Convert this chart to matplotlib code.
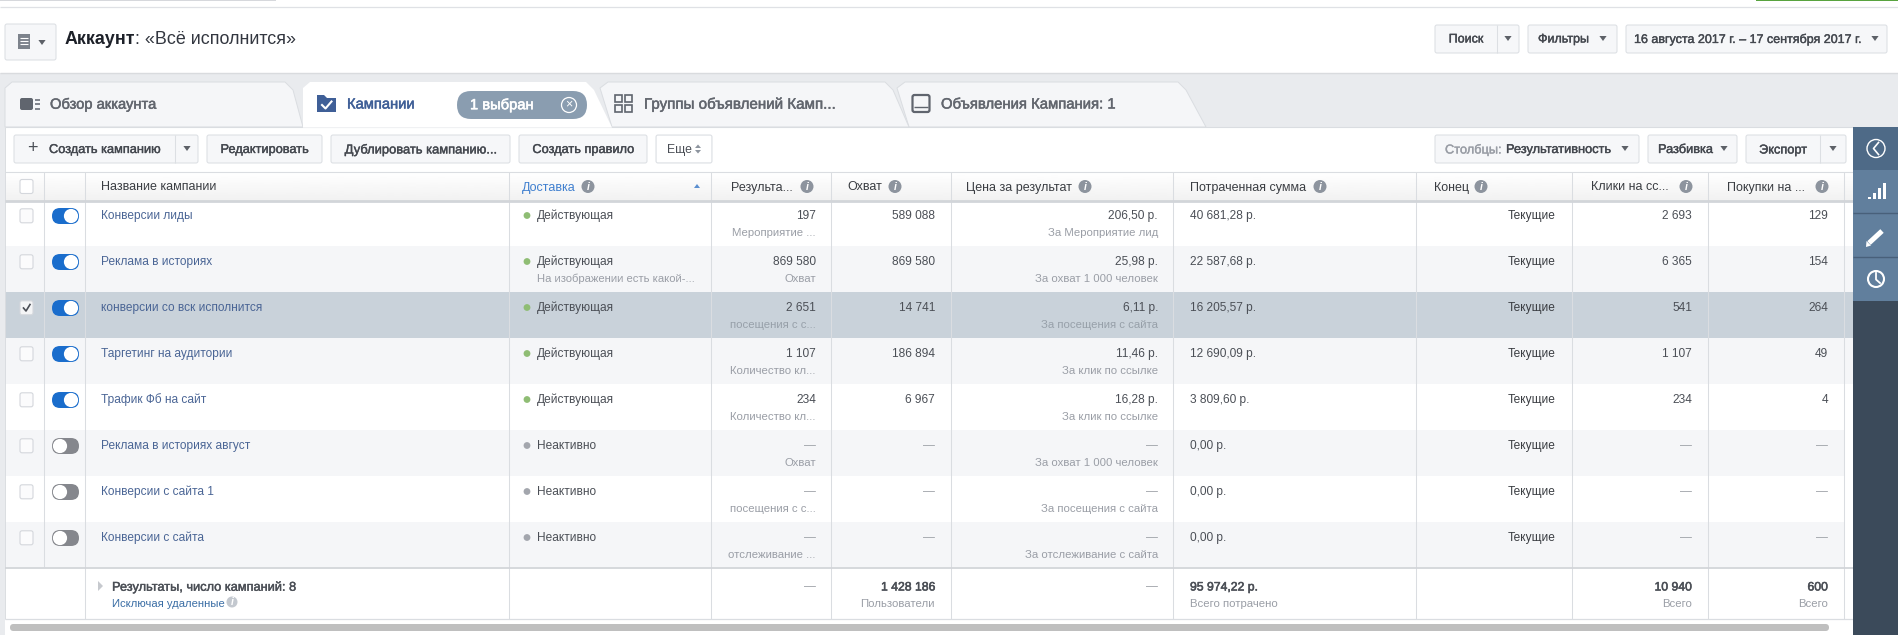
import numpy as np
import matplotlib
matplotlib.use("Agg")
import matplotlib.pyplot as plt
import matplotlib.patheffects as pe
from matplotlib.patches import Rectangle, FancyBboxPatch, Circle, Polygon

plt.rcParams['font.family'] = ['Liberation Sans', 'DejaVu Sans']

# ---- table content ----
campaigns = ["Конверсии лиды", "Реклама в историях", "конверсии со вск исполнится",
             "Таргетинг на аудитории", "Трафик Фб на сайт", "Реклама в историях август",
             "Конверсии с сайта 1", "Конверсии с сайта"]
active = [True, True, True, True, True, False, False, False]
checked = [False, False, True, False, False, False, False, False]
delivery = ["Действующая"] * 5 + ["Неактивно"] * 3
delivery_sub = ["", "На изображении есть какой-...", "", "", "", "", "", ""]
results = ["197", "869 580", "2 651", "1 107", "234", "—", "—", "—"]
result_types = ["Мероприятие ...", "Охват", "посещения с с...", "Количество кл...",
                "Количество кл...", "Охват", "посещения с с...", "отслеживание ..."]
reach = ["589 088", "869 580", "14 741", "186 894", "6 967", "—", "—", "—"]
cost = ["206,50 р.", "25,98 р.", "6,11 р.", "11,46 р.", "16,28 р.", "—", "—", "—"]
cost_types = ["За Мероприятие лид", "За охват 1 000 человек", "За посещения с сайта",
              "За клик по ссылке", "За клик по ссылке", "За охват 1 000 человек",
              "За посещения с сайта", "За отслеживание с сайта"]
spent = ["40 681,28 р.", "22 587,68 р.", "16 205,57 р.", "12 690,09 р.", "3 809,60 р.",
         "0,00 р.", "0,00 р.", "0,00 р."]
ends = ["Текущие"] * 8
clicks = ["2 693", "6 365", "541", "1 107", "234", "—", "—", "—"]
purchases = ["129", "154", "264", "49", "4", "—", "—", "—"]

headers = ["Название кампании", "Доставка", "Результа...", "Охват", "Цена за результат",
           "Потраченная сумма", "Конец", "Клики на сс...", "Покупки на ..."]
header_x = [101, 522, 731, 847, 966, 1190, 1434, 1591, 1727]
header_icon_x = [None, 588, 807, 895, 1085, 1320, 1481, 1686, 1822]
column_edges = [44, 85, 509, 711, 831, 951, 1173, 1416, 1572, 1708, 1844]
row_edges = [202, 246, 292, 338, 384, 430, 476, 522, 567]
row_text_y = [216, 262, 308, 354, 400, 446, 492, 538]

# ---- palette ----
C_TEXT = "#4b4f56"
C_DARK = "#3a3d42"
C_SUB = "#9a9ea6"
C_DASH = "#9ea2a8"
C_LINK = "#4a6595"
C_LINE = "#dadde1"
C_BTN = "#f6f7f9"
C_BG = "#e9ebee"
C_SHADE = "#f5f6f8"
C_SEL = "#c9d2da"
C_ICON = "#8d949e"

fig = plt.figure(figsize=(18.98, 6.35), dpi=100, facecolor="white")
ax = fig.add_axes([0, 0, 1, 1])
ax.set_xlim(0, 1898)
ax.set_ylim(635, 0)
ax.axis("off")


def T(x, y, s, size=8.6, color=C_TEXT, ha="left", weight="normal", **kw):
    if s == "—":
        color = C_DASH
    return ax.text(x, y, s, fontsize=size, color=color, ha=ha, va="center", weight=weight, **kw)


def M(x, y, s, size=9.2, color="#44484f", ha="left", stroke=0.28, **kw):
    """Medium-weight label: regular face with a hairline outline."""
    t = ax.text(x, y, s, fontsize=size, color=color, ha=ha, va="center", zorder=5, **kw)
    t.set_path_effects([pe.withStroke(linewidth=stroke, foreground=color)])
    return t


def R(x0, y0, x1, y1, fc, ec="none", lw=0, z=1):
    ax.add_patch(Rectangle((x0, y0), x1 - x0, y1 - y0, fc=fc, ec=ec, lw=lw, zorder=z))


def L(xs, ys, color=C_LINE, lw=0.75, z=3, **kw):
    ax.plot(xs, ys, color=color, lw=lw, zorder=z, solid_capstyle="butt", **kw)


def button(x0, y0, x1, y1, split=None):
    ax.add_patch(FancyBboxPatch((x0 + 2, y0 + 2), x1 - x0 - 4, y1 - y0 - 4,
                                boxstyle="round,pad=2,rounding_size=2",
                                fc=C_BTN, ec="#dcdfe3", lw=0.75, zorder=3))
    if split:
        L([split, split], [y0, y1], color="#dcdfe3", z=4)


def caret(x, y, color="#5d6168", s=3.6):
    ax.add_patch(Polygon([[x - s, y - 2], [x + s, y - 2], [x, y + 3]], fc=color, ec="none", zorder=5))


def info(x, y, r=6.5, fc=C_ICON):
    ax.add_patch(Circle((x, y), r, fc=fc, ec="none", zorder=5))
    T(x, y + 0.3, "i", size=7.5, color="white", ha="center", weight="bold", style="italic", zorder=6)


def tab(pts, fc):
    ax.add_patch(Polygon(pts, closed=True, fc=fc, ec=C_LINE, lw=0.7, zorder=2, joinstyle="round"))


# ---- top strips ----
R(0, 0, 276, 1.2, "#d6d8dc")
R(1756, 0, 1898, 1.4, "#58a33f")
L([0, 1898], [7.3, 7.3], color="#dfe1e5", lw=0.9)

# ---- account line ----
button(5, 24, 56, 60)
R(18, 34, 30, 49, "#7d838c", z=5)
for yy in (38, 41, 44):
    L([20, 28], [yy, yy], color="white", lw=0.8, z=6)
caret(42, 42)
title_bold = T(65, 39.5, "Аккаунт", size=12.9, color="#1d2129", weight="bold")
fig.canvas.draw()
title_end = title_bold.get_window_extent().x1
T(title_end, 39.5, ": «Всё исполнится»", size=12.9, color="#333740")

button(1435, 25, 1519, 53, split=1497)
M(1466, 39.5, "Поиск", ha="center", size=9.0)
caret(1508, 38)
button(1528, 25, 1617, 53)
M(1538, 39.5, "Фильтры", size=9.0)
caret(1603, 38)
button(1626, 25, 1887, 53)
M(1634, 39.5, "16 августа 2017 г. – 17 сентября 2017 г.", size=9.0)
caret(1875, 38)

# ---- grey band and tabs ----
R(0, 73, 1898, 127, C_BG)
L([0, 1898], [73, 73], color="#d9dbde", lw=1.0)
R(0, 127, 5, 635, C_BG)
tab([[1206, 127], [1186, 90], [1178, 82], [905, 82], [897, 88], [909, 127]], C_SHADE)
tab([[909, 127], [893, 90], [885, 82], [608, 82], [600, 88], [612, 127]], C_SHADE)
tab([[303, 127], [293, 90], [285, 82], [12, 82], [5, 88], [5, 127]], C_SHADE)
L([5, 1853], [127, 127], lw=0.8, z=2)
ax.add_patch(Polygon([[612, 127.6], [594, 90], [586, 82], [310, 82], [303, 88], [303, 127.6]],
                     closed=True, fc="white", ec="none", zorder=3))
M(50, 104.5, "Обзор аккаунта", size=10.6, color="#62666e", stroke=0.35)
M(347, 104.5, "Кампании", size=10.6, color="#3f5f97", stroke=0.35)
M(644, 104.5, "Группы объявлений Камп...", size=10.9, color="#62666e", stroke=0.35)
M(941, 104.5, "Объявления Кампания: 1", size=10.7, color="#62666e", stroke=0.35)
# tab icons
ax.add_patch(FancyBboxPatch((20, 98), 13, 12, boxstyle="round,pad=0,rounding_size=2", fc="#60656e", ec="none", zorder=5))
for yy in (99.5, 104, 108.5):
    L([35, 40], [yy, yy], color="#60656e", lw=1.1, z=5)
ax.add_patch(Polygon([[317, 95], [324, 95], [327, 98], [336, 98], [336, 112], [317, 112]],
                     fc="#3f5f97", ec="none", zorder=5))
ax.plot([322, 325.5, 331.5], [105, 108.5, 101.5], color="white", lw=1.5, zorder=6)
for xx in (615, 625):
    for yy in (95, 105):
        ax.add_patch(Rectangle((xx, yy), 7, 7, fc="none", ec="#60656e", lw=1.2, zorder=5))
ax.add_patch(FancyBboxPatch((913, 95.5), 16, 16, boxstyle="round,pad=0.5,rounding_size=2",
                            fc="none", ec="#60656e", lw=1.6, zorder=5))
L([914, 928], [107, 107], color="#60656e", lw=1.0, z=5)
# selected pill
ax.add_patch(FancyBboxPatch((457, 91), 130, 28, boxstyle="round,pad=0,rounding_size=14",
                            fc="#8a9db0", ec="none", zorder=4))
M(470, 105, "1 выбран", size=10.6, color="white", stroke=0.4)
ax.add_patch(Circle((569, 105), 7.5, fc="none", ec="white", lw=0.9, zorder=5))
T(569, 104.6, "×", size=9, color="white", ha="center", zorder=6)

# ---- toolbar ----
button(14, 135, 198, 163, split=175)
T(32, 148.5, "+", size=13, color="#4b4f56", ha="center", zorder=5)
M(49, 150, "Создать кампанию")
caret(187, 148)
for x0, x1, label in [(207, 322, "Редактировать"), (331, 510, "Дублировать кампанию..."),
                      (519, 647, "Создать правило")]:
    button(x0, 135, x1, 163)
    M((x0 + x1) / 2, 150, label, ha="center", size=9.3 if x0 == 331 else 9.2)
button(656, 135, 712, 163)
ax.add_patch(Rectangle((657, 136), 54, 26, fc="white", ec="none", zorder=4))
T(667, 150, "Еще", size=8.8, zorder=5)
for sgn in (-1, 1):
    ax.add_patch(Polygon([[695, 149 + sgn * 1], [701, 149 + sgn * 1], [698, 149 + sgn * 4.5]],
                         fc="#8d949e", ec="none", zorder=5))
button(1435, 135, 1639, 163)
M(1445, 150, "Столбцы:", color="#9a9ea6")
M(1506, 150, "Результативность")
caret(1625, 148)
button(1648, 135, 1737, 163)
M(1658, 150, "Разбивка")
caret(1724, 148)
button(1746, 135, 1846, 163, split=1820)
M(1783, 150.5, "Экспорт", ha="center")
caret(1833, 148)

# ---- table header ----
grad = np.linspace(1.0, 0.945, 32).reshape(-1, 1)
ax.imshow(grad, extent=(5, 1853, 201, 172), aspect="auto", cmap="gray", vmin=0, vmax=1, zorder=1)
ax.set_xlim(0, 1898)
ax.set_ylim(635, 0)
L([5, 1853], [172, 172], lw=0.8)
L([5, 1853], [200.5, 200.5], color="#d2d5d9", lw=2.0, z=4)
for x, label, ix in zip(header_x, headers, header_icon_x):
    T(x, 187.5, label, size=9.0, color="#3f7fcf" if label == "Доставка" else "#3a3d42", zorder=5)
    if ix:
        info(ix, 186.5)
ax.add_patch(Polygon([[694, 188], [700, 188], [697, 184]], fc="#5b8fd0", ec="none", zorder=5))
ax.add_patch(FancyBboxPatch((20, 179.5), 13, 14, boxstyle="round,pad=0,rounding_size=2",
                            fc="white", ec="#d4d7dc", lw=0.8, zorder=5))

# ---- rows ----
for i in range(8):
    y0, y1 = row_edges[i], row_edges[i + 1]
    fc = C_SEL if checked[i] else (C_SHADE if i in (1, 3, 5, 7) else "white")
    R(5, y0, 1844 if i > 4 else 1853, y1, fc)
    y = row_text_y[i]
    ys = y + 16.5
    # checkbox
    ax.add_patch(FancyBboxPatch((20, y - 7.2), 13, 14, boxstyle="round,pad=0,rounding_size=2",
                                fc="#f4f5f6" if checked[i] else "#fbfbfc", ec="#d4d7dc", lw=0.8, zorder=5))
    if checked[i]:
        ax.plot([23.5, 26, 30], [y, y + 3, y - 3.5], color="#4b4f56", lw=1.2, zorder=6)
    # toggle
    on = active[i]
    ax.add_patch(FancyBboxPatch((52, y - 8), 27, 16, boxstyle="round,pad=0,rounding_size=8",
                                fc="#1a6dcc" if on else "#85878d", ec="none", zorder=5))
    ax.add_patch(Circle((71 if on else 60, y), 7.1, fc="white", ec="none", zorder=6))
    T(101, y, campaigns[i], color=C_LINK, zorder=5)
    # delivery
    ax.add_patch(Circle((527, y - 0.5), 3.4, fc="#8fbd74" if on else "#a3a6ad", ec="none", zorder=5))
    T(537, y, delivery[i], zorder=5)
    if delivery_sub[i]:
        T(537, ys, delivery_sub[i], size=8.1, color=C_SUB, zorder=5)
    sub_c = "#97a0a9" if checked[i] else C_SUB
    T(816, y, results[i], ha="right", zorder=5)
    T(816, ys, result_types[i], size=8.2, color=sub_c, ha="right", zorder=5)
    T(935, y, reach[i], ha="right", zorder=5)
    T(1158, y, cost[i], ha="right", zorder=5)
    T(1158, ys, cost_types[i], size=8.2, color=sub_c, ha="right", zorder=5)
    T(1190, y, spent[i], zorder=5)
    T(1556, y, ends[i], ha="right", color=C_DARK, zorder=5)
    T(1692, y, clicks[i], ha="right", zorder=5)
    T(1828, y, purchases[i], ha="right", zorder=5)

# ---- totals ----
total_labels = ["Результаты, число кампаний: 8", "Исключая удаленные"]
total_reach, total_spent, total_clicks, total_purchases = "1 428 186", "95 974,22 р.", "10 940", "600"
ax.add_patch(Polygon([[98, 581], [98, 591], [103, 586]], fc="#c6c9ce", ec="none", zorder=5))
M(112, 587.5, total_labels[0], size=9.2, stroke=0.3, color=C_TEXT)
T(112, 604, total_labels[1], size=8.1, color="#3b6ea5", zorder=5)
info(232, 602, r=5.5, fc="#c3c8cf")
T(816, 587, "—", ha="right", zorder=5)
M(935, 587.5, total_reach, ha="right", size=8.8, stroke=0.4, color=C_TEXT)
T(935, 604, "Пользователи", ha="right", size=8.2, color=C_SUB, zorder=5)
T(1158, 587, "—", ha="right", zorder=5)
M(1190, 587.5, total_spent, size=8.8, stroke=0.4, color=C_TEXT)
T(1190, 604, "Всего потрачено", size=8.2, color=C_SUB, zorder=5)
M(1692, 587.5, total_clicks, ha="right", size=8.8, stroke=0.4, color=C_TEXT)
T(1692, 604, "Всего", ha="right", size=8.2, color=C_SUB, zorder=5)
M(1828, 587.5, total_purchases, ha="right", size=8.8, stroke=0.4, color=C_TEXT)
T(1828, 604, "Всего", ha="right", size=8.2, color=C_SUB, zorder=5)

# ---- grid lines ----
for x in column_edges:
    L([x, x], [172, 567 if x == 44 else 619], z=3)
L([5, 1853], [567.5, 567.5], color="#d2d5d9", lw=1.3, z=4)
L([5, 1853], [619, 619], lw=0.9)
L([5, 5], [127, 619], lw=0.7)

# ---- scrollbar ----
ax.add_patch(FancyBboxPatch((10, 624), 1819, 7, boxstyle="round,pad=0,rounding_size=3.5",
                            fc="#bfbfbf", ec="none", zorder=3))

# ---- side panel ----
R(1853, 127, 1898, 635, "#3b4a5a", z=6)
R(1853, 127, 1898, 170, "#4e6a87", z=6)
R(1853, 170, 1898, 301, "#617f9d", z=6)
for yy in (213, 257):
    L([1853, 1898], [yy, yy], color="#48607a", lw=1.0, z=7)
ax.add_patch(Circle((1876, 148.5), 9, fc="none", ec="white", lw=1.0, zorder=8))
ax.plot([1878.5, 1873.5, 1878.5], [142.5, 148.5, 154.5], color="white", lw=1.2, zorder=8)
for xx, hh in [(1868, 2.5), (1873, 6), (1878, 11), (1883, 16)]:
    R(xx, 199 - hh, xx + 3, 199, "white", z=8)
ax.plot([1869, 1882], [243, 231], color="white", lw=3.6, zorder=8, solid_capstyle="butt")
ax.add_patch(Polygon([[1866, 247], [1866.5, 241], [1871, 245.5]], fc="white", ec="none", zorder=8))
ax.add_patch(Circle((1876, 279), 8, fc="none", ec="white", lw=1.5, zorder=8))
ax.plot([1876, 1876, 1880], [273, 279.5, 283], color="white", lw=1.3, zorder=8)

fig.savefig("out.png", dpi=100, facecolor="white")
